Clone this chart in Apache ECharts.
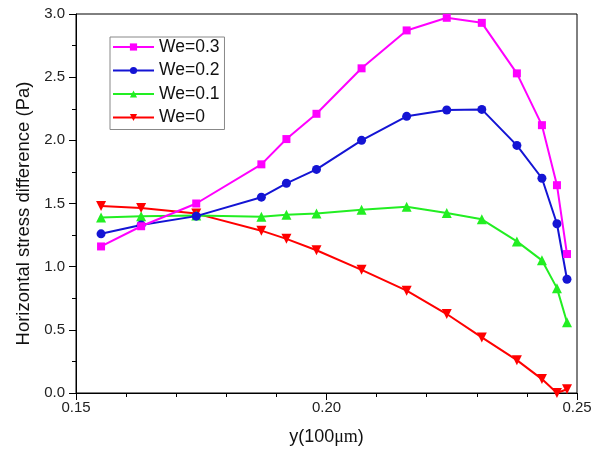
<!DOCTYPE html>
<html>
<head>
<meta charset="utf-8">
<script src="https://cdn.jsdelivr.net/npm/echarts@6/dist/echarts.min.js"></script>
<style>html,body{margin:0;padding:0;background:#fff;}#c{width:603px;height:454px;}</style>
</head>
<body>
<div id="c"></div>
<script>
var xValues = [0.155, 0.163, 0.174, 0.187, 0.192, 0.198, 0.207, 0.216, 0.224, 0.231, 0.238, 0.243, 0.246, 0.248];
var we03 = [1.16, 1.32, 1.50, 1.81, 2.01, 2.21, 2.57, 2.87, 2.97, 2.93, 2.53, 2.12, 1.645, 1.10];
var we02 = [1.26, 1.33, 1.40, 1.55, 1.66, 1.77, 2.00, 2.19, 2.24, 2.245, 1.96, 1.70, 1.34, 0.90];
var we01 = [1.39, 1.40, 1.405, 1.395, 1.41, 1.42, 1.45, 1.475, 1.425, 1.375, 1.20, 1.05, 0.83, 0.56];
var we0  = [1.48, 1.465, 1.42, 1.285, 1.22, 1.13, 0.975, 0.81, 0.625, 0.44, 0.26, 0.11, 0.0, 0.03];
var seriesNames = ['We=0.3', 'We=0.2', 'We=0.1', 'We=0'];
var xTitle = 'y(100{u|μm})';
var yTitle = 'Horizontal stress difference (Pa)';

function pairs(ys) { return xValues.map(function (x, i) { return [x, ys[i]]; }); }

var chart = echarts.init(document.getElementById('c'), null, { renderer: 'canvas' });
var colors = ['#ff00ff', '#1414d4', '#22ee22', '#ff0000'];
var symbols = ['rect', 'circle', 'triangle', 'path://M0,0 L10,0 L5,9 Z'];
var sizes = [8, 9, 10, 10];
var datasets = [we03, we02, we01, we0];
var ff = 'Liberation Sans, Arial';

chart.setOption({
  animation: false,
  backgroundColor: '#fff',
  color: colors,
  grid: { left: 76, right: 26, top: 14, bottom: 61, show: true, borderColor: '#000', borderWidth: 1, backgroundColor: 'transparent', outerBoundsMode: 'none', containLabel: false },
  legend: {
    orient: 'vertical', left: 110, top: 37,
    data: seriesNames,
    itemWidth: 41, itemHeight: 9, itemGap: 5.5,
    padding: [1, 5, 3, 2],
    borderColor: '#888', borderWidth: 1,
    textStyle: { fontFamily: ff, fontSize: 17.5, color: '#111' }
  },
  xAxis: {
    type: 'value', min: 0.15, max: 0.25, interval: 0.05,
    name: xTitle, nameLocation: 'middle', nameGap: 35,
    nameTextStyle: { fontFamily: ff, fontSize: 18, color: '#111',
      rich: { u: { fontFamily: 'Liberation Serif, Times New Roman', fontSize: 18, color: '#111' } } },
    axisLine: { show: true, lineStyle: { color: '#000', width: 1 } },
    axisTick: { show: true, length: 7, lineStyle: { color: '#000' } },
    minorTick: { show: true, splitNumber: 5, length: 4, lineStyle: { color: '#000' } },
    splitLine: { show: false },
    axisLabel: { fontFamily: ff, fontSize: 15, color: '#222', margin: 7, formatter: function (v) { return v.toFixed(2); } }
  },
  yAxis: {
    type: 'value', min: 0, max: 3, interval: 0.5,
    name: yTitle, nameLocation: 'middle', nameGap: 42,
    nameTextStyle: { fontFamily: ff, fontSize: 18.5, color: '#111', padding: [0, 20, 0, 0] },
    axisLine: { show: true, lineStyle: { color: '#000', width: 1 } },
    axisTick: { show: true, length: 7, lineStyle: { color: '#000' } },
    minorTick: { show: true, splitNumber: 2, length: 4, lineStyle: { color: '#000' } },
    splitLine: { show: false },
    axisLabel: { fontFamily: ff, fontSize: 15, color: '#222', margin: 11, formatter: function (v) { return v.toFixed(1); } }
  },
  series: seriesNames.map(function (n, i) {
    return {
      name: n, type: 'line', data: pairs(datasets[i]),
      symbol: symbols[i], symbolSize: sizes[i], showSymbol: true,
      lineStyle: { width: 2, color: colors[i] },
      itemStyle: { color: colors[i] },
      z: 10 - i
    };
  })
});
</script>
</body>
</html>
